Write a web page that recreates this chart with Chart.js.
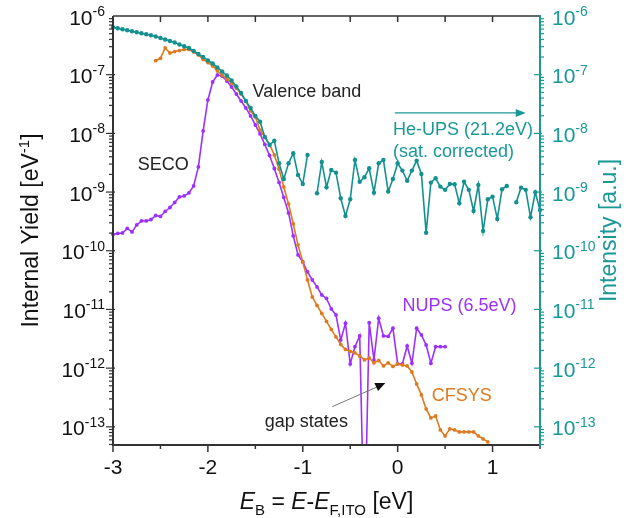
<!DOCTYPE html>
<html>
<head>
<meta charset="utf-8">
<script src="https://cdn.jsdelivr.net/npm/chart.js@4/dist/chart.umd.min.js"></script>
<style>
  body { margin: 0; background: #fff; }
  canvas { display: block; }
</style>
</head>
<body>
<canvas id="yieldChart" width="626" height="518"></canvas>
<script>
// binding energy grid (eV): first point of each spectrum, common step
const heStart = -3.0;
const cfStart = -2.55;
const nuStart = -3.0;
const eStep = 0.05;

// He-UPS (21.2eV), saturation corrected - null where no point was recorded
const heUps = [
  6.42e-7, 6.17e-7, 5.93e-7, 5.71e-7, 5.49e-7, 5.28e-7, 5.07e-7, 4.88e-7, 4.69e-7, 4.47e-7,
  4.22e-7, 3.98e-7, 3.75e-7, 3.54e-7, 3.27e-7, 3.05e-7, 2.85e-7, 2.53e-7, 2.25e-7, 2.00e-7,
  1.75e-7, 1.55e-7, 1.33e-7, 1.13e-7, 9.69e-8, 7.96e-8, 6.30e-8, 4.88e-8, 3.56e-8, 2.71e-8,
  1.98e-8, 1.58e-8, 8.68e-9, 6.34e-9, 7.51e-9, 3.09e-9, 1.67e-9, 3.09e-9, 4.58e-9, 1.96e-9,
  1.37e-9, 4.29e-9, null, 9.54e-10, 3.26e-9, 1.21e-9, 2.38e-9, 2.14e-9, 7.84e-10, 3.92e-10,
  7.54e-10, 3.52e-9, 1.50e-9, 1.79e-9, 2.54e-9, 9.77e-10, 3.09e-9, 3.52e-9, 1.02e-9, 1.67e-9,
  3.09e-9, 2.32e-9, 1.56e-9, 2.32e-9, 3.43e-9, 2.03e-9, 2.03e-10, 1.45e-9, 1.72e-9, 1.24e-9,
  1.09e-9, 1.37e-9, 1.36e-9, 6.45e-10, 1.50e-9, 1.09e-9, 4.76e-10, 1.32e-9, 2.17e-10, 7.54e-10,
  8.35e-10, 3.48e-10, 1.12e-9, 1.27e-9, null, 6.70e-10, 1.19e-9, 1.09e-9, 3.72e-10, 9.92e-10,
  4.95e-10
];

// CFSYS internal yield
const cfsys = [
  1.73e-7, 1.90e-7, 2.85e-7, 2.34e-7, 2.48e-7, 2.58e-7, 2.69e-7, 2.69e-7, 2.44e-7, 2.17e-7,
  1.82e-7, 1.61e-7, 1.41e-7, 1.16e-7, 9.88e-8, 8.45e-8, 7.22e-8, 5.93e-8, 4.69e-8, 3.56e-8,
  2.41e-8, 1.90e-8, 1.14e-8, 8.68e-9, 6.47e-9, 4.29e-9, 2.47e-9, 1.22e-9, 6.27e-10, 2.86e-10,
  1.26e-10, 6.45e-11, 3.18e-11, 1.63e-11, 1.17e-11, 8.55e-12, 6.25e-12, 4.56e-12, 3.40e-12, 2.53e-12,
  2.08e-12, 1.93e-12, 1.82e-12, 1.61e-12, 1.38e-12, 1.49e-12, 1.23e-12, 1.35e-12, 1.09e-12, 1.23e-12,
  1.07e-12, 1.18e-12, 1.13e-12, 1.09e-12, 8.61e-13, 5.38e-13, 3.50e-13, 2.02e-13, 1.42e-13, 1.53e-13,
  8.85e-14, 7.00e-14, 9.21e-14, 8.85e-14, 8.19e-14, 8.19e-14, 8.19e-14, 8.19e-14, 7.00e-14, 6.22e-14,
  5.53e-14
];

// NUPS (6.5eV) internal yield
const nups = [
  1.90e-10, 1.97e-10, 2.01e-10, 2.40e-10, 2.09e-10, 2.75e-10, 3.22e-10, 3.22e-10, 3.41e-10, 3.99e-10,
  3.84e-10, 4.67e-10, 5.46e-10, 6.65e-10, 8.25e-10, 8.58e-10, 9.65e-10, 1.27e-9, 2.68e-9, 1.10e-8,
  3.71e-8, 7.51e-8, 9.88e-8, 9.50e-8, 7.81e-8, 6.17e-8, 4.69e-8, 3.56e-8, 2.71e-8, 1.98e-8,
  1.39e-8, 9.77e-9, 6.47e-9, 4.20e-9, 2.52e-9, 1.46e-9, 8.09e-10, 4.41e-10, 1.79e-10, 8.48e-11,
  6.45e-11, 4.35e-11, 3.18e-11, 2.42e-11, 1.77e-11, 1.54e-11, 1.02e-11, 8.06e-12, 3.02e-12, 5.82e-12,
  1.18e-12, 2.32e-12, 3.54e-12, 1.0e-15, 5.96e-12, 1.38e-12, 7.08e-12, 3.54e-12, 3.47e-12, 4.78e-12,
  1.18e-12, 1.18e-12, 2.39e-12, 1.21e-12, 4.78e-12, 3.68e-12, 2.48e-12, 1.21e-12, 2.32e-12, 2.32e-12,
  2.32e-12
];

const xTicks = [-3, -2, -1, 0, 1];
const yExps = [-6, -7, -8, -9, -10, -11, -12, -13];

const FONT = '"Liberation Sans", Arial, sans-serif';
const TEAL = '#139191';
const TEAL_TXT = '#1a9898';
const PURPLE = '#9b30ff';
const ORANGE = '#e07a1f';
const DARK = '#333333';

function toPoints(start, values) {
  return values.map((v, i) => ({ x: +(start + i * eStep).toFixed(2), y: v }));
}

// "10" with a raised exponent; y is the vertical centre of the "10"
function drawPow(ctx, exp, x, y, align, color) {
  ctx.fillStyle = color;
  ctx.textBaseline = 'alphabetic';
  ctx.textAlign = 'left';
  ctx.font = '21px ' + FONT;
  const wBase = ctx.measureText('10').width;
  ctx.font = '14px ' + FONT;
  const sup = String(exp);
  const wSup = ctx.measureText(sup).width;
  const x0 = align === 'right' ? x - wBase - wSup : x;
  ctx.font = '21px ' + FONT;
  ctx.fillText('10', x0, y + 7.5);
  ctx.font = '14px ' + FONT;
  ctx.fillText(sup, x0 + wBase, y - 1);
}

// draw a run of text pieces: [text, size, italic, dy]
function drawRich(ctx, pieces, x, y, align, rotate) {
  ctx.save();
  ctx.translate(x, y);
  if (rotate) ctx.rotate(-Math.PI / 2);
  ctx.textBaseline = 'alphabetic';
  ctx.textAlign = 'left';
  let total = 0;
  pieces.forEach(p => {
    ctx.font = (p[2] ? 'italic ' : '') + p[1] + 'px ' + FONT;
    total += ctx.measureText(p[0]).width;
  });
  let cx = align === 'center' ? -total / 2 : 0;
  pieces.forEach(p => {
    ctx.font = (p[2] ? 'italic ' : '') + p[1] + 'px ' + FONT;
    ctx.fillText(p[0], cx, p[3]);
    cx += ctx.measureText(p[0]).width;
  });
  ctx.restore();
}

function seg(ctx, x1, y1, x2, y2) {
  ctx.beginPath();
  ctx.moveTo(x1, y1);
  ctx.lineTo(x2, y2);
  ctx.stroke();
}

function arrowHead(ctx, x1, y1, x2, y2, len, half, color) {
  const ang = Math.atan2(y2 - y1, x2 - x1);
  ctx.fillStyle = color;
  ctx.beginPath();
  ctx.moveTo(x2, y2);
  ctx.lineTo(x2 - len * Math.cos(ang) + half * Math.sin(ang), y2 - len * Math.sin(ang) - half * Math.cos(ang));
  ctx.lineTo(x2 - len * Math.cos(ang) - half * Math.sin(ang), y2 - len * Math.sin(ang) + half * Math.cos(ang));
  ctx.closePath();
  ctx.fill();
}

const axesPlugin = {
  id: 'axesPlugin',
  afterDatasetsDraw(chart) {
    const ctx = chart.ctx;
    const a = chart.chartArea;
    const xs = chart.scales.x;
    const ys = chart.scales.y;
    const px = v => xs.getPixelForValue(v);
    const py = v => ys.getPixelForValue(v);
    ctx.save();
    ctx.lineCap = 'butt';

    // bottom and top axes
    ctx.strokeStyle = DARK;
    ctx.lineWidth = 2;
    seg(ctx, a.left - 1, a.bottom, a.right, a.bottom);
    ctx.lineWidth = 1.5;
    seg(ctx, a.left, a.top, a.right, a.top);
    for (let v = -3; v <= 1.5001; v += 0.5) {
      const x = px(v);
      const major = Math.abs(v - Math.round(v)) < 1e-6;
      ctx.lineWidth = 1.5;
      seg(ctx, x, a.bottom, x, a.bottom + (major ? 7 : 4));
      if (v > -3 && v < 1.5) seg(ctx, x, a.top, x, a.top + 6);
    }
    ctx.fillStyle = '#111';
    ctx.font = '21px ' + FONT;
    ctx.textAlign = 'center';
    ctx.textBaseline = 'middle';
    xTicks.forEach(t => ctx.fillText(String(t), px(t), a.bottom + 23));

    // left axis
    ctx.strokeStyle = DARK;
    ctx.lineWidth = 2;
    seg(ctx, a.left, a.top, a.left, a.bottom + 1);
    // right axis
    ctx.strokeStyle = TEAL_TXT;
    seg(ctx, a.right, a.top - 1, a.right, a.bottom + 1);
    ctx.lineWidth = 1.2;
    for (let n = -14; n <= -7; n++) {
      for (let m = 1; m <= 9; m++) {
        const v = m * Math.pow(10, n);
        if (v < ys.min || v > ys.max * 1.0001) continue;
        const y = py(v);
        const major = m === 1;
        ctx.strokeStyle = DARK;
        seg(ctx, a.left - (major ? 7 : 4), y, a.left + (major ? 2 : 0), y);
        ctx.strokeStyle = TEAL_TXT;
        seg(ctx, a.right - (major ? 6 : 0), y, a.right + (major ? 2 : 4), y);
      }
    }
    yExps.forEach(e => {
      const y = py(Math.pow(10, e));
      drawPow(ctx, e, a.left - 8, y + 1, 'right', '#111');
      drawPow(ctx, e, a.right + 12, y + 1, 'left', TEAL_TXT);
    });

    // axis titles
    ctx.fillStyle = '#111';
    drawRich(ctx, [['Internal Yield [eV', 23, false, 0], ['-1', 15, false, -9], [']', 23, false, 0]],
      38, (a.top + a.bottom) / 2, 'center', true);
    ctx.fillStyle = TEAL_TXT;
    drawRich(ctx, [['Intensity [a.u.]', 23, false, 0]], 616, (a.top + a.bottom) / 2, 'center', true);
    ctx.fillStyle = '#111';
    drawRich(ctx, [
      ['E', 23, true, 0], ['B', 15, false, 6], [' = ', 23, false, 0], ['E', 23, true, 0],
      ['-', 23, false, 0], ['E', 23, true, 0], ['F,ITO', 15, false, 6], [' [eV]', 23, false, 0]
    ], (a.left + a.right) / 2, a.bottom + 64, 'center', false);

    // annotations
    ctx.textAlign = 'left';
    ctx.textBaseline = 'middle';
    ctx.font = '18px ' + FONT;
    ctx.fillStyle = '#222';
    ctx.fillText('SECO', px(-2.74), py(2.9e-9));
    ctx.fillText('Valence band', px(-1.53), py(5.1e-8));
    ctx.fillText('gap states', px(-1.40), py(1.23e-13));
    ctx.fillStyle = TEAL_TXT;
    ctx.fillText('He-UPS (21.2eV)', px(-0.05), py(1.14e-8));
    ctx.fillText('(sat. corrected)', px(-0.05), py(4.8e-9));
    ctx.fillStyle = PURPLE;
    ctx.fillText('NUPS (6.5eV)', px(0.05), py(1.15e-11));
    ctx.fillStyle = ORANGE;
    ctx.fillText('CFSYS', px(0.36), py(3.3e-13));

    // teal arrow pointing to the right axis
    ctx.strokeStyle = TEAL_TXT;
    ctx.lineWidth = 1.2;
    const ay = py(2.23e-8);
    seg(ctx, px(-0.03), ay, px(1.30), ay);
    arrowHead(ctx, px(1.20), ay, px(1.35), ay, 10, 4, TEAL_TXT);

    // gap states arrow
    ctx.strokeStyle = '#777';
    ctx.lineWidth = 1;
    const gx1 = px(-0.69), gy1 = py(2.2e-13), gx2 = px(-0.13), gy2 = py(5.6e-13);
    seg(ctx, gx1, gy1, gx2 - 6, gy2 + 3);
    arrowHead(ctx, gx1, gy1, gx2, gy2, 10, 4.5, '#111');

    ctx.restore();
  }
};

const edgeClip = { left: 5, right: 5, top: 5, bottom: 0 };

new Chart(document.getElementById('yieldChart'), {
  type: 'line',
  data: {
    datasets: [
      {
        label: 'He-UPS (21.2eV)',
        data: toPoints(heStart, heUps),
        yAxisID: 'y2',
        borderColor: TEAL,
        backgroundColor: TEAL,
        borderWidth: 1.6,
        pointRadius: 2.2,
        pointBorderWidth: 0,
        spanGaps: false,
        clip: edgeClip
      },
      {
        label: 'CFSYS',
        data: toPoints(cfStart, cfsys),
        yAxisID: 'y',
        borderColor: ORANGE,
        backgroundColor: ORANGE,
        borderWidth: 1.6,
        pointRadius: 1.9,
        pointBorderWidth: 0,
        clip: edgeClip
      },
      {
        label: 'NUPS (6.5eV)',
        data: toPoints(nuStart, nups),
        yAxisID: 'y',
        borderColor: PURPLE,
        backgroundColor: PURPLE,
        borderWidth: 1.6,
        pointRadius: 1.9,
        pointBorderWidth: 0,
        clip: edgeClip
      }
    ]
  },
  options: {
    responsive: false,
    animation: false,
    devicePixelRatio: 1,
    layout: { padding: { left: 113, right: 86, top: 16, bottom: 73 } },
    plugins: { legend: { display: false }, tooltip: { enabled: false } },
    scales: {
      x: { type: 'linear', min: -3, max: 1.5, display: false },
      y: { type: 'logarithmic', min: 4.9e-14, max: 1e-6, display: false },
      y2: { type: 'logarithmic', min: 4.9e-14, max: 1e-6, display: false, position: 'right' }
    }
  },
  plugins: [axesPlugin]
});
</script>
</body>
</html>
